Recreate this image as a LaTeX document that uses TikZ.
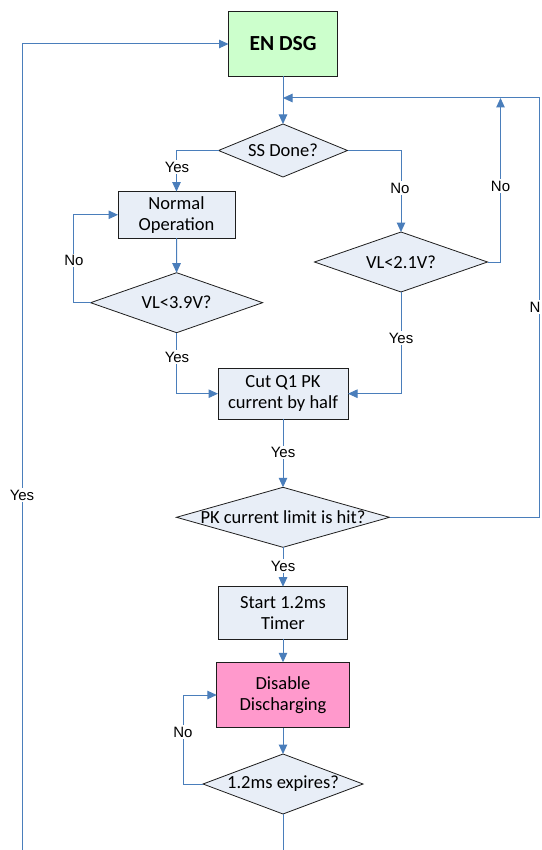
\documentclass[tikz,border=0pt]{standalone}
\usepackage{fontspec}
\setmainfont{Carlito}
\newfontfamily\lblfont{Liberation Sans}
\usetikzlibrary{shapes.geometric,arrows.meta}
\definecolor{linecol}{RGB}{74,126,187}
\definecolor{boxfill}{RGB}{232,238,247}
\definecolor{greenfill}{RGB}{204,255,204}
\definecolor{pinkfill}{RGB}{255,153,204}
\definecolor{edgecol}{RGB}{30,30,30}
\begin{document}
\begin{tikzpicture}[x=1pt,y=-1pt,
  proc/.style={draw=edgecol, line width=0.8pt, fill=boxfill, rectangle, inner sep=0pt, outer sep=0pt, align=center, font=\fontsize{18.5}{21}\selectfont},
  dec/.style={draw=edgecol, line width=0.8pt, fill=boxfill, diamond, inner sep=0pt, outer sep=0pt},
  dtext/.style={font=\fontsize{18.5}{21}\selectfont, inner sep=0pt},
  conn/.style={draw=linecol, line width=1pt},
  arr/.style={conn, -{Triangle[length=9.5pt,width=8.5pt]}},
  lbl/.style={font=\lblfont\fontsize{15}{17}\selectfont, fill=white, inner sep=1.5pt}]
\useasboundingbox (0,0) rectangle (541,850);
\fill[white] (0,0) rectangle (541,850);

% process boxes
\node[proc, fill=greenfill, minimum width=109pt, minimum height=64.6pt, font=\bfseries\fontsize{21.5}{24}\selectfont] (endsg) at (283,44) {EN DSG};
\node[proc, minimum width=117pt, minimum height=46.5pt] (normal) at (176.5,214.8) {Normal\\Operation};
\node[proc, minimum width=130pt, minimum height=51.3pt] (cut) at (283,393.7) {Cut Q1 PK\\current by half};
\node[proc, minimum width=129.5pt, minimum height=52.6pt] (start) at (283,613) {Start 1.2ms\\Timer};
\node[proc, fill=pinkfill, minimum width=132.5pt, minimum height=65.4pt] (disable) at (283,695) {Disable\\Discharging};

% decisions
\node[dec, minimum width=129pt, minimum height=53pt] (ss) at (283,150.5) {};
\node[dtext] (sst) at (ss) {SS Done?};
\node[dec, minimum width=172pt, minimum height=60pt] (vl39) at (176.6,302.7) {};
\node[dtext] (vl39t) at (vl39) {VL<3.9V?};
\node[dec, minimum width=173pt, minimum height=60pt] (vl21) at (401,262) {};
\node[dtext] (vl21t) at (vl21) {VL<2.1V?};
\node[dec, minimum width=213pt, minimum height=60pt] (pk) at (283,517.3) {};
\node[dtext] (pkt) at (pk) {PK current limit is hit?};
\node[dec, minimum width=160pt, minimum height=60pt] (exp) at (283,784) {};
\node[dtext] (expt) at (exp) {1.2ms expires?};

% helper coordinates
\coordinate (cNo39) at (73.6,302.7);
\coordinate (loopR) at (500.5,98);
\coordinate (rc) at (539,98);
\coordinate (jn) at (283,98);
\coordinate (cNoExp) at (183,784);
\coordinate (bot) at (283,850);
\coordinate (botL) at (22,850);

% connectors
\draw[arr] (endsg.south) -- (ss.north);
\draw[arr] (ss.west) -| (normal.north);
\draw[arr] (ss.east) -| (vl21.north);
\draw[arr] (normal.south) -- (vl39.north);
\draw[arr] (vl39.west) -- (cNo39) |- (normal.west);
\draw[arr] (vl39.south) |- (cut.west);
\draw[arr] (vl21.south) |- (cut.east);
\draw[arr] (vl21.east) -| (loopR);
\draw[arr] (pk.east) -| (rc) -- (jn);
\draw[arr] (cut.south) -- (pk.north);
\draw[arr] (pk.south) -- (start.north);
\draw[arr] (start.south) -- (disable.north);
\draw[arr] (disable.south) -- (exp.north);
\draw[arr] (exp.west) -- (cNoExp) |- (disable.west);
\draw[conn] (exp.south) -- (bot);
\draw[arr] (botL) |- (endsg.west);

% labels
\node[lbl] (l1) at (177,167) {Yes};
\node[lbl] (l2) at (400,188) {No};
\node[lbl] (l3) at (500.5,186) {No};
\node[lbl] (l4) at (74,260.7) {No};
\node[lbl] (l5) at (177,357) {Yes};
\node[lbl] (l6) at (401,338) {Yes};
\node[lbl] (l7) at (535,307) {N};
\node[lbl] (l8) at (283,452.7) {Yes};
\node[lbl] (l9) at (283,566) {Yes};
\node[lbl] (l10) at (183,732) {No};
\node[lbl] (l11) at (22,495) {Yes};
\end{tikzpicture}
\end{document}
